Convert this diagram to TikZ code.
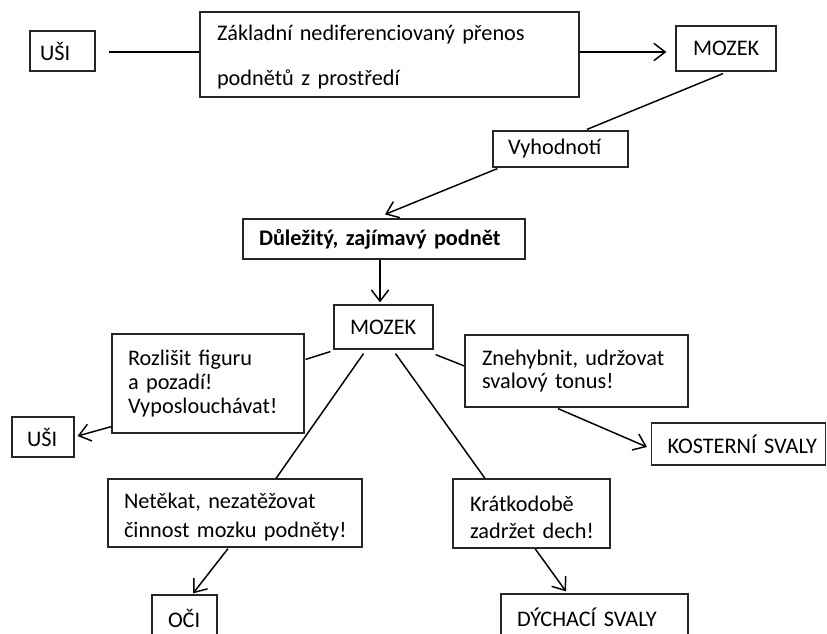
\documentclass[tikz,border=0pt]{standalone}
\usepackage{fontspec}
\setmainfont{Carlito}
\usetikzlibrary{arrows.meta,calc}
\begin{document}
\begin{tikzpicture}[x=0.75pt,y=-0.75pt,
  box/.style={draw=black!85,line width=0.9pt,align=left,inner ysep=0pt,
    font=\fontsize{16.7}{19.8}\selectfont},
  conn/.style={line width=1.1pt,black},
  arr/.style={conn,-{Straight Barb[length=8.5pt,width=13pt,line width=1.1pt]}}]
\useasboundingbox (0,0) rectangle (827,634);
\clip (0,0) rectangle (827,634);
\fill[white] (0,0) rectangle (827,634);

\node[box,minimum width=48.75pt,minimum height=30pt,inner xsep=7.5pt,text width=33.75pt] (ushi1) at (62.5,51) {\mbox{UŠI}};
\node[box,minimum width=284.25pt,minimum height=63.75pt,inner xsep=12.75pt,text width=258.75pt,
  font=\fontsize{16.7}{33.75}\selectfont] (big) at (389.5,54.5)
  {\rule{0pt}{15pt}\mbox{Základní nediferenciovaný přenos}\\\mbox{podnětů z prostředí}};
\node[box,minimum width=75pt,minimum height=33.75pt,inner xsep=12.75pt,text width=49.5pt] (mozek1) at (726,48.5) {\mbox{MOZEK}};
\node[box,minimum width=101.25pt,minimum height=27pt,inner xsep=11.25pt,text width=78.75pt] (vyh) at (560.5,149) {\mbox{Vyhodnotí}};
\node[box,minimum width=211.5pt,minimum height=30pt,inner xsep=12pt,text width=187.5pt] (dul) at (384,239)
  {\mbox{\bfseries Důležitý, zajímavý podnět}};
\node[box,minimum width=74.25pt,minimum height=33pt,inner xsep=12pt,text width=50.25pt] (mozek2) at (383.5,327) {\mbox{MOZEK}};
\node[box,minimum width=144pt,minimum height=74.25pt,inner xsep=12pt,text width=120pt,
  font=\fontsize{16.7}{18}\selectfont] (rozl) at (208,383.5)
  {\mbox{Rozlišit figuru}\\\mbox{a pozadí!}\\\mbox{Vyposlouchávat!}};
\node[box,minimum width=46.5pt,minimum height=30pt,inner xsep=11.25pt,text width=24pt] (ushi2) at (43,437) {\mbox{UŠI}};
\node[box,minimum width=167.25pt,minimum height=54pt,inner xsep=12.75pt,text width=141.75pt,
  font=\fontsize{16.7}{17.25}\selectfont] (zneh) at (576.5,371)
  {\mbox{Znehybnit, udržovat}\\\mbox{svalový tonus!}};
\node[box,minimum width=130.5pt,minimum height=31.5pt,inner xsep=12pt,text width=106.5pt] (kost) at (738.5,444) {\mbox{KOSTERNÍ SVALY}};
\node[box,minimum width=190.5pt,minimum height=51pt,inner xsep=12pt,text width=166.5pt,
  font=\fontsize{16.7}{21.75}\selectfont] (net) at (235,513)
  {\rule{0pt}{18pt}\mbox{Netěkat, nezatěžovat}\\\mbox{činnost mozku podněty!}};
\node[box,minimum width=117.75pt,minimum height=51.75pt,inner xsep=12.75pt,text width=92.25pt,
  font=\fontsize{16.7}{20.25}\selectfont] (krat) at (531.5,513.5)
  {\rule{0pt}{18pt}\mbox{Krátkodobě}\\\mbox{zadržet dech!}};
\node[box,minimum width=48.75pt,minimum height=34.5pt,inner xsep=12pt,text width=24.75pt] (oci) at (184.5,618) {\mbox{OČI}};
\node[box,minimum width=140.25pt,minimum height=34.5pt,inner xsep=12pt,text width=116.25pt] (dych) at (594.5,617) {\mbox{DÝCHACÍ SVALY}};

% connectors
\draw[conn] ($(ushi1.east)+(13,1)$) -- ($(big.west)+(0,-2.5)$);
\draw[arr] ($(big.east)+(0,-2.5)$) -- ($(mozek1.west)+(-9,3.5)$);
\draw[conn] ($(mozek1.south)+(-3,2)$) -- ($(vyh.north)+(26.5,-1)$);
\draw[arr] ($(vyh.south west)+(5,1)$) -- ($(dul.north)+(1,-4)$);
\draw[arr] ($(dul.south)+(-4,0)$) -- ($(mozek2.north)+(-3.5,-2)$);
\draw[conn] ($(mozek2.south west)+(-3,2)$) -- ($(rozl.north east)+(1,26)$);
\draw[arr] ($(rozl.south west)+(0,-7)$) -- ($(ushi2.east)+(3,-1)$);
\draw[conn] ($(mozek2.south)+(-20,4)$) -- ($(net.north)+(41,0)$);
\draw[conn] ($(mozek2.south)+(12,4)$) -- ($(krat.north)+(-46.5,0)$);
\draw[conn] ($(mozek2.south east)+(2,5)$) -- ($(zneh.west)+(0,-5)$);
\draw[arr] ($(zneh.south)+(-18.5,1)$) -- ($(kost.west)+(-4,3)$);
\draw[arr] ($(net.south)+(-7,1)$) -- ($(oci.north)+(8.5,-1)$);
\draw[arr] ($(krat.south)+(3.5,0)$) -- ($(dych.north)+(-28.5,-2)$);
\end{tikzpicture}
\end{document}
